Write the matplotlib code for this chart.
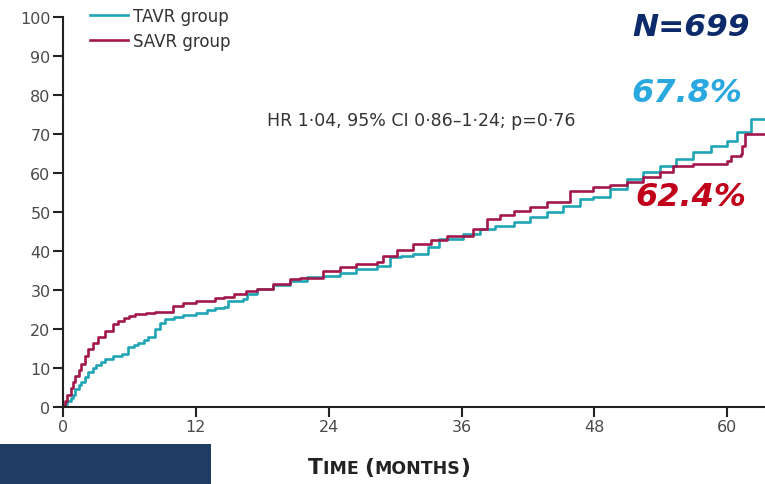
import matplotlib
matplotlib.use("Agg")
import matplotlib.pyplot as plt
from matplotlib.patches import Rectangle
from matplotlib.offsetbox import TextArea, HPacker, AnchoredOffsetbox

plt.rcParams["font.family"] = ["DejaVu Sans"]

# Kaplan-Meier style cumulative event curves (months, %)
tavr_months = [0, 0.2, 0.4, 0.7, 0.9, 1.1, 1.4, 1.6, 2.0, 2.3, 2.7, 3.0, 3.4, 3.8,
               4.5, 5.3, 5.9, 6.4, 6.8, 7.3, 7.7, 8.3, 8.8, 9.2, 10.0, 10.8,
               12.0, 13.0, 13.7, 14.5, 14.9, 16.3, 16.6, 17.5, 19.0,
               20.5, 22.0, 23.5, 25.0, 26.5, 28.4, 29.5, 30.5, 31.6, 33.0, 34.0,
               36.1, 37.7, 39.0, 40.7, 42.2, 43.7, 45.2, 46.7, 47.9, 49.4, 50.9,
               52.4, 53.9, 55.4, 56.9, 58.5, 60.0, 60.9, 62.1, 63.4]
tavr_pct = [0, 0.8, 1.5, 2.4, 3.0, 4.6, 5.6, 6.5, 7.8, 9.0, 10.0, 10.8, 11.6, 12.3,
            13.0, 13.6, 15.4, 16.0, 16.5, 17.2, 17.9, 20.0, 21.6, 22.6, 23.2,
            23.6, 24.2, 24.8, 25.4, 25.6, 27.2, 27.7, 29.0, 30.3,
            31.3, 32.3, 33.3, 33.6, 34.4, 35.4, 36.2, 38.5, 38.8, 39.2, 41.0,
            43.0, 44.4, 45.6, 46.4, 47.4, 48.7, 50.0, 51.6, 53.3, 53.8, 56.0,
            58.5, 60.2, 61.8, 63.6, 65.4, 66.8, 68.2, 70.5, 73.8, 73.8]

savr_months = [0, 0.2, 0.4, 0.7, 0.9, 1.1, 1.4, 1.6, 2.0, 2.3, 2.7, 3.2, 3.8, 4.5,
               5.0, 5.5, 6.0, 6.5, 7.5, 8.3, 9.4, 9.9,
               10.8, 12.0, 13.7, 14.5, 15.4, 16.5, 17.5, 19.0, 20.5, 21.4, 23.5,
               25.0, 26.5, 28.4, 28.9, 30.2, 31.6, 33.2, 34.7, 37.0, 38.3, 39.5,
               40.7, 42.2, 43.7, 45.8, 47.9, 49.4, 50.9, 52.4, 53.9, 55.1, 56.9,
               60.0, 60.3, 61.2, 61.3, 61.6, 63.4]
savr_pct = [0, 1.5, 3.0, 5.0, 6.5, 8.0, 9.5, 11.0, 13.2, 15.0, 16.5, 18.0, 19.5,
            21.3, 22.0, 22.8, 23.3, 23.8, 24.0, 24.3, 24.3,
            25.9, 26.7, 27.2, 28.0, 28.2, 29.0, 29.7, 30.3, 31.5, 32.8, 33.0,
            34.9, 35.8, 36.7, 37.2, 38.7, 40.2, 41.8, 42.8, 43.8, 45.6, 48.2,
            49.3, 50.3, 51.4, 52.6, 55.4, 56.4, 57.0, 57.7, 58.9, 60.3, 61.8,
            62.3, 63.0, 64.4, 64.9, 67.0, 70.0, 70.0]

x_ticks = [0, 12, 24, 36, 48, 60]
y_ticks = [0, 10, 20, 30, 40, 50, 60, 70, 80, 90, 100]

tavr_color = "#1fa5b4"
savr_color = "#a3184c"

W, H = 765, 485
fig = plt.figure(figsize=(W / 100, H / 100), dpi=100)
ax = fig.add_axes([63 / W, (H - 408) / H, (W - 63) / W, (408 - 18) / H])

ax.plot(tavr_months, tavr_pct, drawstyle="steps-post", color=tavr_color,
        lw=1.9, label="TAVR group")
ax.plot(savr_months, savr_pct, drawstyle="steps-post", color=savr_color,
        lw=1.9, label="SAVR group")

ax.set_xlim(0, 63.4)
ax.set_ylim(0, 100)
ax.set_xticks(x_ticks)
ax.set_yticks(y_ticks)
for s in ("top", "right"):
    ax.spines[s].set_visible(False)
for s in ("left", "bottom"):
    ax.spines[s].set_linewidth(1.5)
    ax.spines[s].set_color("#222222")
ax.tick_params(length=7, width=1.5, color="#222222", labelsize=11.5,
               labelcolor="#4a4a4a", pad=2)

leg = ax.legend(loc="upper left", bbox_to_anchor=(90 / W, 1 - 8 / H),
                bbox_transform=fig.transFigure, frameon=False, fontsize=12,
                handlelength=2.3, handletextpad=0.3, labelspacing=0.4,
                borderpad=0, borderaxespad=0)
for t in leg.get_texts():
    t.set_color("#333333")

fig.text(421 / W, 1 - 121 / H, "HR 1·04, 95% CI 0·86–1·24; p=0·76",
         ha="center", va="center", fontsize=12.5, color="#333333")

fig.text(691 / W, 1 - 27 / H, "N=699", ha="center", va="center",
         fontsize=22.5, fontweight="bold", style="italic", color="#0d2a6a")
fig.text(687 / W, 1 - 93 / H, "67.8%", ha="center", va="center",
         fontsize=23, fontweight="bold", style="italic", color="#2aa8e0")
fig.text(691 / W, 1 - 198 / H, "62.4%", ha="center", va="center",
         fontsize=23, fontweight="bold", style="italic", color="#c0001a")

# dark block at bottom left
fig.patches.append(Rectangle((0, 0), 211 / W, 40 / H, transform=fig.transFigure,
                             facecolor="#1e3c64", edgecolor="none"))

# x axis title in small caps
big = dict(fontsize=15.5, fontweight="bold", color="#222222")
small = dict(fontsize=12.5, fontweight="bold", color="#222222")
parts = [TextArea("T", textprops=big), TextArea("IME ", textprops=small),
         TextArea("(", textprops=big), TextArea("MONTHS", textprops=small),
         TextArea(")", textprops=big)]
pack = HPacker(children=parts, align="baseline", pad=0, sep=0)
box = AnchoredOffsetbox(loc="center", child=pack, frameon=False,
                        bbox_to_anchor=(389 / W, 1 - 468 / H),
                        bbox_transform=fig.transFigure, borderpad=0, pad=0)
fig.add_artist(box)

fig.savefig("out.png", dpi=100)
